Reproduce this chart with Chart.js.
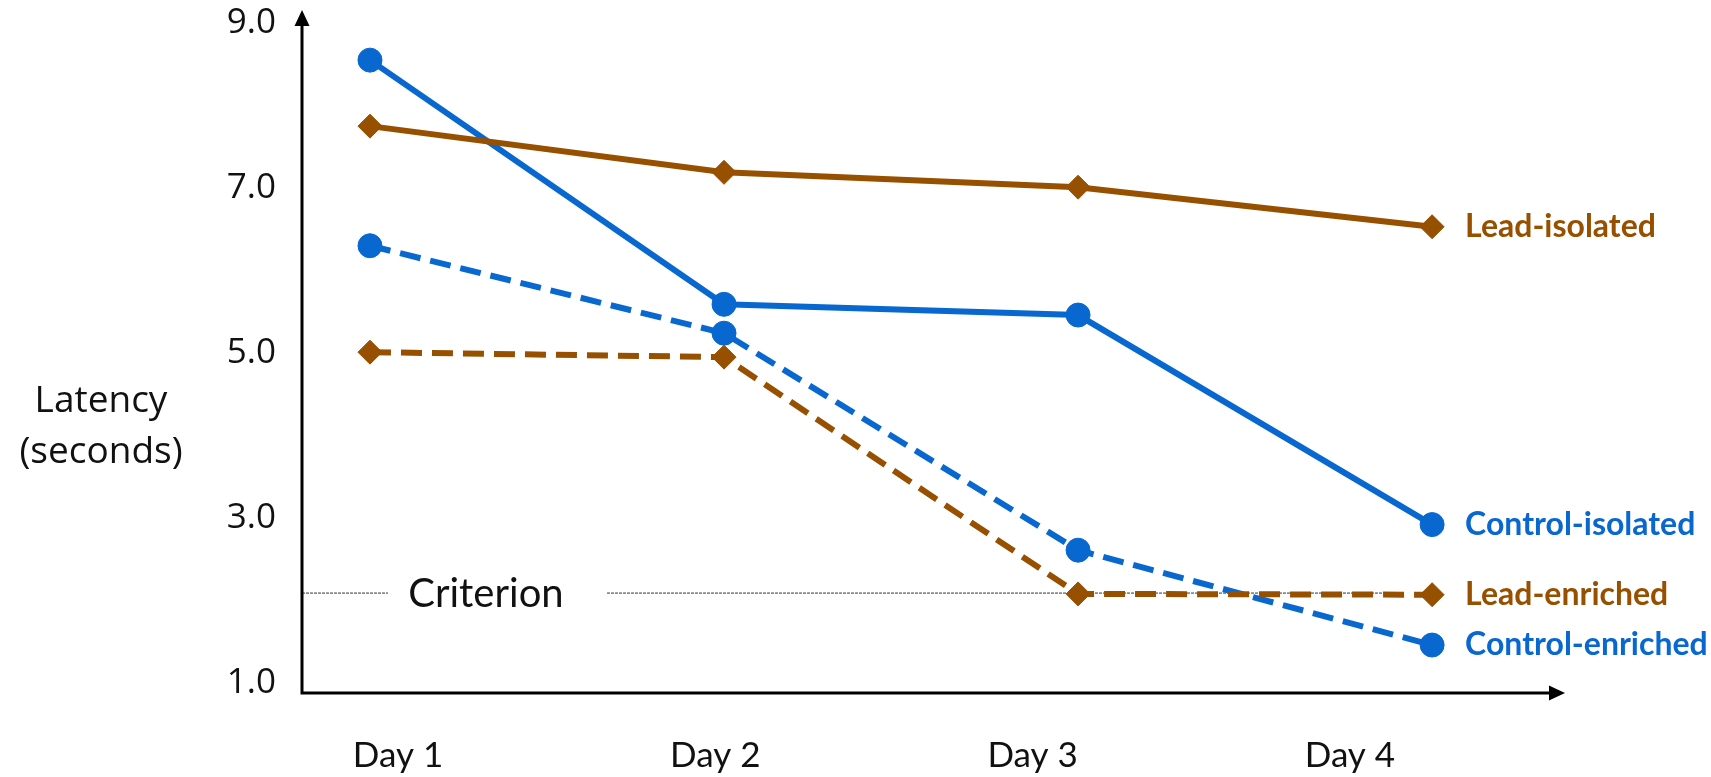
<!DOCTYPE html>
<html><head><meta charset="utf-8">
<script src="https://cdn.jsdelivr.net/npm/chart.js@4/dist/chart.umd.min.js"></script>
<style>html,body{margin:0;padding:0;background:#fff;overflow:hidden}canvas{display:block}</style>
</head><body>
<canvas id="c" width="1711" height="777"></canvas>
<script>
// ---- data ----
const days = [1, 2, 3, 4];
const dayLabels = ['Day 1', 'Day 2', 'Day 3', 'Day 4'];
const yTicks = [1, 3, 5, 7, 9];
const controlIsolated = [8.55, 5.59, 5.46, 2.92];
const leadIsolated = [7.75, 7.19, 7.01, 6.53];
const controlEnriched = [6.30, 5.24, 2.61, 1.46];
const leadEnriched = [5.01, 4.95, 2.08, 2.07];
const criterionValue = 2.09;
const criterionLabel = 'Criterion';
const yTitle = ['Latency', '(seconds)'];

const BLUE = '#0868D0';
const BROWN = '#975000';

function pts(vals) { return days.map((d, i) => ({ x: d, y: vals[i] })); }
function ds(label, vals, color, shape, dashed) {
  return {
    label, data: pts(vals), borderColor: color, backgroundColor: color,
    borderWidth: 6, borderDash: dashed ? [21, 10] : [],
    pointStyle: shape, pointRadius: 12, pointBorderWidth: 1,
    pointBorderColor: color, pointBackgroundColor: color, tension: 0, fill: false
  };
}

const decor = {
  id: 'decor',
  beforeDatasetsDraw(chart) {
    const { ctx, chartArea: a, scales: { y } } = chart;
    const cy = y.getPixelForValue(criterionValue);
    ctx.save();
    // criterion line
    ctx.strokeStyle = '#333'; ctx.lineWidth = 1; ctx.setLineDash([3, 1]);
    ctx.beginPath();
    ctx.moveTo(a.left, cy); ctx.lineTo(a.left + 86, cy);
    ctx.moveTo(a.left + 305, cy); ctx.lineTo(a.left + 1085, cy);
    ctx.stroke();
    ctx.setLineDash([]);
    ctx.fillStyle = '#111'; ctx.font = '40px Lato'; ctx.textAlign = 'center'; ctx.textBaseline = 'middle';
    ctx.fillText(criterionLabel, a.left + 184, cy + 1);
    // axes with arrows
    const ax = a.left, ay = a.bottom + 10;
    ctx.strokeStyle = '#000'; ctx.lineWidth = 3;
    ctx.beginPath();
    ctx.moveTo(ax, ay + 1.5); ctx.lineTo(ax, 22);
    ctx.moveTo(ax - 1.5, ay); ctx.lineTo(a.right - 14, ay);
    ctx.stroke();
    ctx.fillStyle = '#000';
    ctx.beginPath(); ctx.moveTo(ax, 10); ctx.lineTo(ax - 7.5, 26); ctx.lineTo(ax + 7.5, 26); ctx.closePath(); ctx.fill();
    ctx.beginPath(); ctx.moveTo(a.right - 2, ay); ctx.lineTo(a.right - 18, ay - 7.5); ctx.lineTo(a.right - 18, ay + 7.5); ctx.closePath(); ctx.fill();
    // y title
    ctx.fillStyle = '#111'; ctx.font = '37px "Open Sans"'; ctx.textAlign = 'center'; ctx.textBaseline = 'middle';
    ctx.fillText(yTitle[0], 101, 401);
    ctx.fillText(yTitle[1], 101, 452);
    ctx.restore();
  },
  afterDatasetsDraw(chart) {
    const { ctx } = chart;
    ctx.save();
    ctx.font = 'bold 32px Lato'; ctx.textAlign = 'left'; ctx.textBaseline = 'middle';
    chart.data.datasets.forEach((d, i) => {
      const m = chart.getDatasetMeta(i);
      const p = m.data[m.data.length - 1];
      ctx.fillStyle = d.borderColor;
      ctx.fillText(d.label, p.x + 33, p.y);
    });
    ctx.restore();
  }
};

new Chart(document.getElementById('c'), {
  type: 'line',
  data: {
    datasets: [
      ds('Lead-isolated', leadIsolated, BROWN, 'rectRot', false),
      ds('Control-isolated', controlIsolated, BLUE, 'circle', false),
      ds('Lead-enriched', leadEnriched, BROWN, 'rectRot', true),
      ds('Control-enriched', controlEnriched, BLUE, 'circle', true)
    ]
  },
  options: {
    responsive: false, animation: false, devicePixelRatio: 1,
    layout: { padding: { top: 23, right: 144, left: 0, bottom: 0 } },
    plugins: { legend: { display: false }, tooltip: { enabled: false } },
    scales: {
      x: { type: 'linear', min: 0.808, max: 4.381, display: false },
      xd: {
        type: 'linear', position: 'bottom', min: 0.6975, max: 4.684,
        afterFit(s) { s.height = 94; s.paddingLeft = 0; s.paddingRight = 0; },
        afterBuildTicks(s) { s.ticks = days.map(v => ({ value: v })); },
        ticks: { callback: v => dayLabels[days.indexOf(v)], font: { family: 'Lato', size: 35 }, color: '#111', padding: 52, maxRotation: 0, autoSkip: false },
        grid: { display: false, drawTicks: false }, border: { display: false }
      },
      y: {
        type: 'linear', min: 1, max: 9,
        afterFit(s) { s.width = 302; s.paddingTop = 0; s.paddingBottom = 0; },
        afterBuildTicks(s) { s.ticks = yTicks.map(v => ({ value: v })); },
        ticks: { callback: v => Number(v).toFixed(1), font: { family: 'Open Sans', size: 35 }, color: '#111', padding: 26 },
        grid: { display: false, drawTicks: false }, border: { display: false }
      }
    }
  },
  plugins: [decor]
});
</script>
</body></html>
